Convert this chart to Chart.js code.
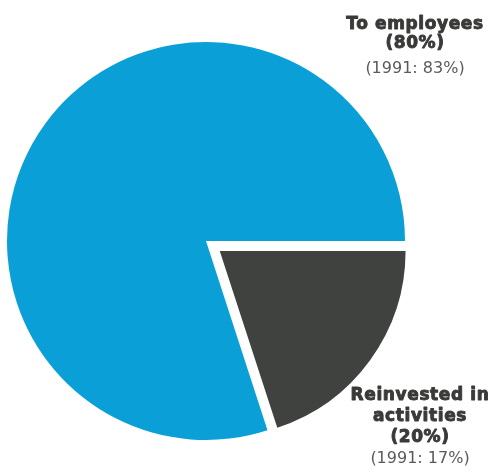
<!DOCTYPE html>
<html>
<head>
<meta charset="utf-8">
<script src="https://cdn.jsdelivr.net/npm/chart.js@4/dist/chart.umd.min.js"></script>
<style>
  html, body { margin: 0; padding: 0; background: #ffffff; }
  #wrap { width: 490px; height: 472px; }
</style>
</head>
<body>
<div id="wrap"><canvas id="chart" width="490" height="472"></canvas></div>
<script>
// Distribution of value added
const categories = ['To employees', 'Reinvested in activities'];
const shareCurrent = [80, 20];      // %
const sharePrevious = [83, 17];     // %
const previousYear = '1991';
const labelLines = [['To employees'], ['Reinvested in', 'activities']];
const sliceColors = ['#0aa0d7', '#40423f'];

// Draws the slice captions: bold name + share, then last year's share
const captionPlugin = {
  id: 'captions',
  afterUpdate(chart) {
    // the detached slice is drawn slightly smaller so it stays inside the disc
    const arc = chart.getDatasetMeta(0).data[1];
    if (arc) arc.outerRadius = 185;
  },
  afterDraw(chart) {
    const ctx = chart.ctx;
    const anchors = [
      { x: 415, y: 29, gap: [19, 25] },
      { x: 420, y: 400, gap: [21, 21, 21] }
    ];
    ctx.save();
    ctx.textAlign = 'center';
    ctx.textBaseline = 'alphabetic';
    categories.forEach((cat, i) => {
      const a = anchors[i];
      const lines = labelLines[i].concat(['(' + shareCurrent[i] + '%)']);
      let y = a.y;
      ctx.fillStyle = '#3a3b39';
      ctx.strokeStyle = '#3a3b39';
      ctx.lineWidth = 0.9;
      ctx.lineJoin = 'round';
      ctx.font = 'bold 17px "DejaVu Sans"';
      ctx.letterSpacing = '0.6px';
      lines.forEach((ln, k) => {
        ctx.fillText(ln, a.x, y);
        ctx.strokeText(ln, a.x, y);
        y += a.gap[k];
      });
      ctx.letterSpacing = '0px';
      ctx.fillStyle = '#5a5a5a';
      ctx.font = '16px "DejaVu Sans"';
      ctx.fillText('(' + previousYear + ': ' + sharePrevious[i] + '%)', a.x, y);
    });
    ctx.restore();
  }
};

new Chart(document.getElementById('chart'), {
  type: 'pie',
  data: {
    labels: categories,
    datasets: [{
      data: shareCurrent,
      backgroundColor: sliceColors,
      borderWidth: 0,
      offset: [0, 68]
    }]
  },
  options: {
    responsive: false,
    animation: false,
    rotation: 162,
    radius: 199,
    layout: { padding: { left: 0, right: 78, top: 10, bottom: 0 } },
    plugins: {
      legend: { display: false },
      tooltip: { enabled: false }
    }
  },
  plugins: [captionPlugin]
});
</script>
</body>
</html>
